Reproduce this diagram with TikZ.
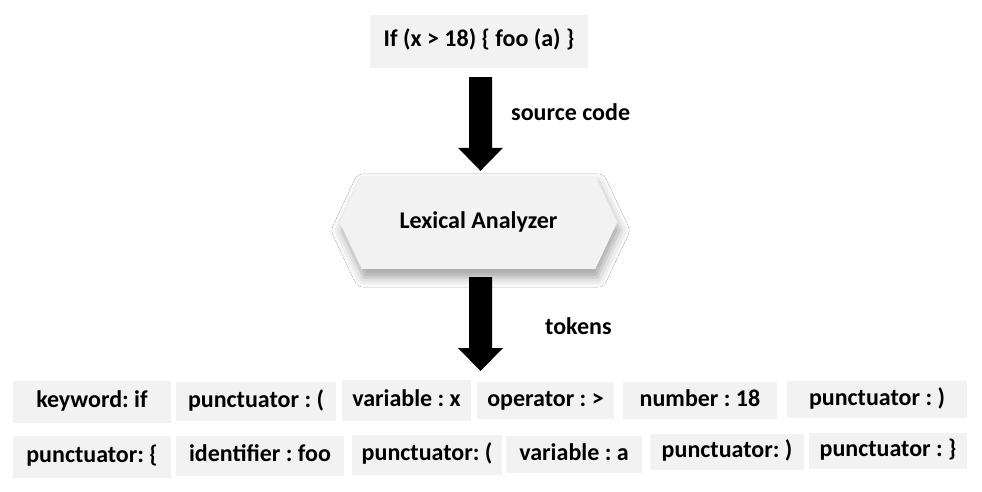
\documentclass[tikz,border=0pt]{standalone}
\usepackage{fontspec}
\setmainfont{Carlito}
\usetikzlibrary{calc,shadows.blur}
\definecolor{boxgray}{RGB}{242,242,242}
\newcommand\blockarrow[2]{%
  \fill[black] ($(#1)+(-11.5,0)$) -- ($(#1)+(11.5,0)$) -- ($(#2)+(11.5,-23)$) -- ($(#2)+(22.5,-23)$)
    -- (#2) -- ($(#2)+(-22.5,-23)$) -- ($(#2)+(-11.5,-23)$) -- cycle;}
\begin{document}
\frenchspacing
\begin{tikzpicture}[x=1pt,y=-1pt,
  tok/.style={fill=boxgray, inner sep=0pt, text height=16pt, text depth=5pt,
    font=\fontsize{24}{28}\selectfont\bfseries, text=black},
  lbl/.style={font=\fontsize{24}{28}\selectfont\bfseries, text=black, inner sep=0pt}]
\useasboundingbox[fill=white] (0,0) rectangle (982,492);
% source
\node[tok, minimum width=218pt, minimum height=53pt] (src) at (479,41.5) {If (x > 18) \{ foo (a) \}};
% lexical analyzer
\node[inner sep=0pt, minimum width=277pt, minimum height=93pt] (lex) at (478.5,222.5) {};
\fill[boxgray, blur shadow={shadow xshift=2pt, shadow yshift=-8pt, shadow blur radius=10pt, shadow opacity=38}]
  (lex.west) -- ([xshift=22pt]lex.north west) -- ([xshift=-22pt]lex.north east) -- (lex.east)
  -- ([xshift=-22pt]lex.south east) -- ([xshift=22pt]lex.south west) -- cycle;
\node[lbl, text height=16pt, text depth=5pt] (lextext) at (lex.center) {Lexical Analyzer};
% arrows
\coordinate (a1s) at ($(src.south)+(1.5,9)$);
\coordinate (a1e) at ($(lex.north)+(2,-5)$);
\coordinate (a2s) at ($(lex.south)+(2,8)$);
\coordinate (tk) at (480.5,371);
\blockarrow{a1s}{a1e}
\blockarrow{a2s}{tk}
\node[lbl, anchor=west] (sc) at (511,112) {source code};
\node[lbl, anchor=west] (tl) at (545,326) {tokens};
% tokens row 1
\node[tok, minimum width=158pt, minimum height=42pt] (t1) at (92,402) {keyword: if};
\node[tok, minimum width=160pt, minimum height=39pt] (t2) at (256,401.5) {punctuator : (};
\node[tok, minimum width=129pt, minimum height=41pt] (t3) at (406.5,400.5) {variable : x};
\node[tok, minimum width=137pt, minimum height=37pt] (t4) at (545.5,400.5) {operator : >};
\node[tok, minimum width=154pt, minimum height=37pt] (t5) at (700,400.5) {number : 18};
\node[tok, minimum width=180pt, minimum height=37pt] (t6) at (877,399.5) {punctuator : )};
% tokens row 2
\node[tok, minimum width=158pt, minimum height=42pt] (t7) at (92,457) {punctuator: \{};
\node[tok, minimum width=168pt, minimum height=40pt] (t8) at (260,456) {identifier : foo};
\node[tok, minimum width=150pt, minimum height=40pt] (t9) at (427,455) {punctuator: (};
\node[tok, minimum width=136pt, minimum height=37pt] (t10) at (574,454.5) {variable : a};
\node[tok, minimum width=154pt, minimum height=36pt] (t11) at (727,452) {punctuator: )};
\node[tok, minimum width=158pt, minimum height=36pt] (t12) at (888,451) {punctuator : \}};
\end{tikzpicture}
\end{document}
